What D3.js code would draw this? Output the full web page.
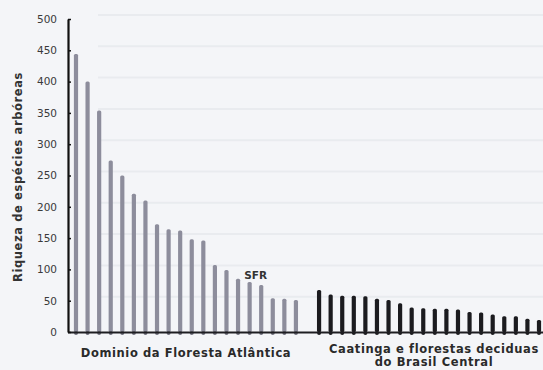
<!DOCTYPE html>
<html>
<head>
<meta charset="utf-8">
<script src="https://cdn.jsdelivr.net/npm/d3@7"></script>
<style>
  html, body { margin: 0; padding: 0; background: #f4f5f8; }
  svg { display: block; }
  text { font-family: "DejaVu Sans", Verdana, sans-serif; }
</style>
</head>
<body>
<svg id="chart" width="543" height="370"></svg>
<script>
// ---- data ----
const atlanticValues = [444, 400, 354, 274, 250, 221, 210, 172, 164, 162, 148, 146, 107, 99, 85, 80, 75, 54, 53, 51];
const caatingaValues = [67, 60, 58, 58, 57, 53, 51, 46, 39, 38, 37, 37, 36, 32, 31, 28, 25, 25, 21, 19];
const yTicks = [0, 50, 100, 150, 200, 250, 300, 350, 400, 450, 500];
const groupLabels = ["Dominio da Floresta Atlântica", ["Caatinga e florestas deciduas", "do Brasil Central"]];
const yTitle = "Riqueza de espécies arbóreas";
const annotation = { label: "SFR", index: 15 };

// build slots: atlantic, one empty slot, caatinga
const items = [];
atlanticValues.forEach((v, i) => items.push({ key: "A" + i, value: v, group: "A" }));
items.push({ key: "gap", value: null, group: null });
caatingaValues.forEach((v, i) => items.push({ key: "C" + i, value: v, group: "C" }));

const svg = d3.select("#chart");
const x0 = 68, yBase = 332, yTop = 19;

const x = d3.scalePoint().domain(items.map(d => d.key)).range([76, 539]);
const y = d3.scaleLinear().domain([0, 500]).range([yBase, yTop]);

// faint background streaks (scan-like)
svg.append("g").selectAll("line")
  .data(yTicks.slice(1))
  .join("line")
  .attr("x1", x0 + 30).attr("x2", 543)
  .attr("y1", d => y(d) - 4).attr("y2", d => y(d) - 4)
  .attr("stroke", "#e9ebef").attr("stroke-width", 2);

// bars
const barW = 4.2;
svg.append("g").selectAll("rect")
  .data(items.filter(d => d.value !== null))
  .join("rect")
  .attr("x", d => x(d.key) - barW / 2)
  .attr("y", d => y(d.value))
  .attr("width", barW)
  .attr("height", d => yBase - y(d.value))
  .attr("rx", 1.5)
  .attr("fill", d => d.group === "A" ? "#8d8d9c" : "#1b1b1f");

// small feet below bars
svg.append("g").selectAll("circle")
  .data(items.filter(d => d.value !== null))
  .join("circle")
  .attr("cx", d => x(d.key))
  .attr("cy", yBase + 1)
  .attr("r", 2)
  .attr("fill", d => d.group === "A" ? "#6f6f7c" : "#1b1b1f");

// x axis line
svg.append("line")
  .attr("x1", x0).attr("x2", 543)
  .attr("y1", yBase + 0.5).attr("y2", yBase + 0.5)
  .attr("stroke", "#1e1e22").attr("stroke-width", 2);

// y axis
const yAxis = d3.axisLeft(y).tickValues(yTicks).tickSizeInner(-3).tickSizeOuter(0).tickPadding(11);
const gy = svg.append("g").attr("transform", `translate(${x0},0)`).call(yAxis);
gy.select(".domain").attr("stroke", "#111").attr("stroke-width", 2.2);
gy.selectAll(".tick line").attr("stroke", "#111").attr("stroke-width", 1.5);
gy.selectAll(".tick text")
  .attr("font-size", 10.5).attr("fill", "#3a3a3a")
  .style("font-family", "'DejaVu Sans', sans-serif");

// y title
svg.append("text")
  .attr("transform", "translate(22,177) rotate(-90)")
  .attr("text-anchor", "middle")
  .attr("font-size", 11.5).attr("letter-spacing", 0.6)
  .attr("font-weight", "bold").attr("fill", "#333")
  .text(yTitle);

// group labels
svg.append("text")
  .attr("x", 186).attr("y", 357)
  .attr("text-anchor", "middle")
  .attr("font-size", 11.5).attr("letter-spacing", 0.6)
  .attr("font-weight", "bold").attr("fill", "#2a2a2a")
  .text(groupLabels[0]);
const t2 = svg.append("text")
  .attr("x", 434).attr("y", 353)
  .attr("text-anchor", "middle")
  .attr("font-size", 11.5).attr("letter-spacing", 0.6)
  .attr("font-weight", "bold").attr("fill", "#2a2a2a");
t2.selectAll("tspan").data(groupLabels[1]).join("tspan")
  .attr("x", 434).attr("dy", (d, i) => i === 0 ? 0 : 13)
  .text(d => d);

// SFR annotation
const aItem = items[annotation.index];
svg.append("text")
  .attr("x", x(aItem.key) + 6).attr("y", y(aItem.value) - 3)
  .attr("text-anchor", "middle")
  .attr("font-size", 10.5).attr("font-weight", "bold").attr("fill", "#333")
  .text(annotation.label);
</script>
</body>
</html>
